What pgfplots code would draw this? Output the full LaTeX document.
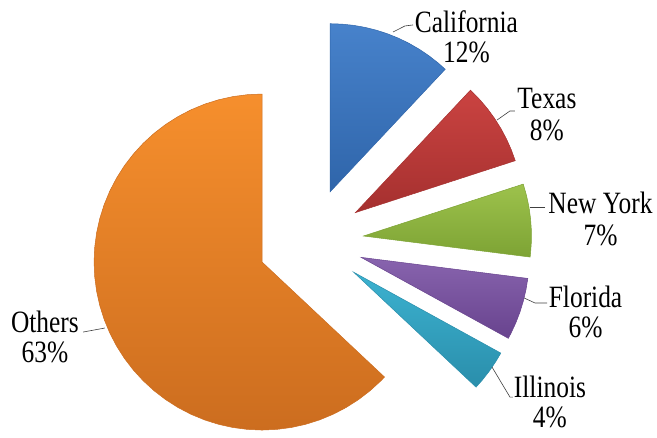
\documentclass[border=0pt]{standalone}
\usepackage{pgfplots}
\pgfplotsset{compat=1.18}
\usepackage{fontspec}
\setmainfont{Liberation Serif}
\newfontfamily\labfont[FakeStretch=0.82]{Liberation Serif}
\definecolor{caltop}{HTML}{4782CB}\definecolor{calbot}{HTML}{2F65AA}
\definecolor{textop}{HTML}{CA4341}\definecolor{texbot}{HTML}{A5302F}
\definecolor{nytop}{HTML}{9DC24C}\definecolor{nybot}{HTML}{7DA334}
\definecolor{fltop}{HTML}{8864AE}\definecolor{flbot}{HTML}{68438E}
\definecolor{iltop}{HTML}{3CB2D0}\definecolor{ilbot}{HTML}{2A8EAB}
\definecolor{ottop}{HTML}{F68F2D}\definecolor{otbot}{HTML}{CC6D1F}
\definecolor{leader}{HTML}{404040}
\begin{document}
\begin{tikzpicture}
\begin{axis}[
  x=168pt, y=168pt,
  xmin=-1.8494, xmax=2.0613, ymin=-1.1667, ymax=1.4345,
  hide axis, clip=false,
  data cs=polar,
]
\path (rel axis cs:0,0) rectangle (rel axis cs:1,1);
% California 12% (90 -> 46.8)
\addplot[draw=calbot, line width=0.5pt, top color=caltop, bottom color=calbot, mark=none, xshift=19.51pt, yshift=49.28pt]
 coordinates {(0,0) (90,1) (86,1) (82,1) (78,1) (74,1) (70,1) (66,1) (62,1) (58,1) (54,1) (50,1) (46.8,1) (0,0)} -- cycle;
% Texas 8% (46.8 -> 18)
\addplot[draw=texbot, line width=0.5pt, top color=textop, bottom color=texbot, mark=none, xshift=44.75pt, yshift=28.40pt]
 coordinates {(0,0) (46.8,1) (42,1) (38,1) (34,1) (30,1) (26,1) (22,1) (18,1) (0,0)} -- cycle;
% New York 7% (18 -> -7.2)
\addplot[draw=nybot, line width=0.5pt, top color=nytop, bottom color=nybot, mark=none, xshift=52.76pt, yshift=4.99pt]
 coordinates {(0,0) (18,1) (14,1) (10,1) (6,1) (2,1) (-2,1) (-6,1) (-7.2,1) (0,0)} -- cycle;
% Florida 6% (-7.2 -> -28.8)
\addplot[draw=flbot, line width=0.5pt, top color=fltop, bottom color=flbot, mark=none, xshift=50.41pt, yshift=-16.38pt]
 coordinates {(0,0) (-7.2,1) (-11,1) (-15,1) (-19,1) (-23,1) (-27,1) (-28.8,1) (0,0)} -- cycle;
% Illinois 4% (-28.8 -> -43.2)
\addplot[draw=ilbot, line width=0.5pt, top color=iltop, bottom color=ilbot, mark=none, xshift=42.88pt, yshift=-31.15pt]
 coordinates {(0,0) (-28.8,1) (-32,1) (-36,1) (-40,1) (-43.2,1) (0,0)} -- cycle;
% Others 63% (90 -> 316.8)
\addplot[draw=otbot, line width=0.5pt, top color=ottop, bottom color=otbot, mark=none, xshift=-48.64pt, yshift=-21.05pt]
 coordinates {(0,0) (90,1) (95,1) (100,1) (105,1) (110,1) (115,1) (120,1) (125,1) (130,1) (135,1) (140,1) (145,1) (150,1) (155,1) (160,1) (165,1) (170,1) (175,1) (180,1) (185,1) (190,1) (195,1) (200,1) (205,1) (210,1) (215,1) (220,1) (225,1) (230,1) (235,1) (240,1) (245,1) (250,1) (255,1) (260,1) (265,1) (270,1) (275,1) (280,1) (285,1) (290,1) (295,1) (300,1) (305,1) (310,1) (315,1) (316.8,1) (0,0)} -- cycle;
% leader lines
\draw[leader, line width=0.6pt] (axis cs:0.609,1.286) -- (axis cs:0.561,1.280) -- (axis cs:0.490,1.244);
\draw[leader, line width=0.6pt] (axis cs:1.216,0.774) -- (axis cs:1.186,0.774) -- (axis cs:1.109,0.720);
\draw[leader, line width=0.6pt] (axis cs:1.395,0.202) -- (axis cs:1.306,0.202);
\draw[leader, line width=0.6pt] (axis cs:1.407,-0.369) -- (axis cs:1.335,-0.369) -- (axis cs:1.270,-0.339);
\draw[leader, line width=0.6pt] (axis cs:1.204,-0.929) -- (axis cs:1.186,-0.929) -- (axis cs:1.079,-0.750);
\draw[leader, line width=0.6pt] (axis cs:-1.355,-0.542) -- (axis cs:-1.225,-0.518);
% labels
\tikzset{lab/.style={anchor=base, inner sep=0pt, font=\labfont\fontsize{31}{31}\selectfont}}
\node[lab] at (axis cs:0.927,1.244) {California};
\node[lab] at (axis cs:0.927,1.060) {12\%};
\node[lab] at (axis cs:1.406,0.786) {Texas};
\node[lab] at (axis cs:1.406,0.601) {8\%};
\node[lab] at (axis cs:1.725,0.161) {New York};
\node[lab] at (axis cs:1.725,-0.024) {7\%};
\node[lab] at (axis cs:1.636,-0.393) {Florida};
\node[lab] at (axis cs:1.636,-0.577) {6\%};
\node[lab] at (axis cs:1.424,-0.929) {Illinois};
\node[lab] at (axis cs:1.424,-1.113) {4\%};
\node[lab] at (axis cs:-1.582,-0.542) {Others};
\node[lab] at (axis cs:-1.582,-0.726) {63\%};
\end{axis}
\end{tikzpicture}
\end{document}
